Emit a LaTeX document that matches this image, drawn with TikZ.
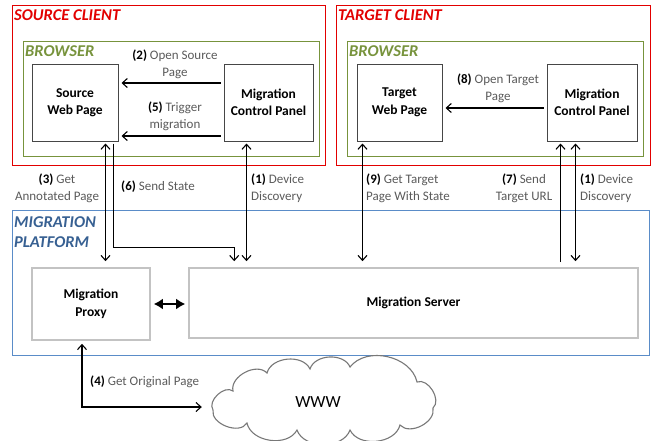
\documentclass[tikz,border=0pt]{standalone}
\usepackage{fontspec}
\setmainfont{Carlito}
\usetikzlibrary{arrows.meta,positioning}
\definecolor{clientred}{RGB}{226,0,0}
\definecolor{browsergreen}{RGB}{119,147,60}
\definecolor{platformblue}{RGB}{90,140,200}
\definecolor{platformtext}{RGB}{55,96,146}
\definecolor{servicegray}{RGB}{195,195,195}
\definecolor{pagedark}{RGB}{70,70,70}
\definecolor{msggray}{RGB}{90,90,90}
\definecolor{cloudgray}{RGB}{120,120,120}
\newcommand{\stepno}[1]{\textcolor{black}{\textbf{#1}}}
\tikzset{
  area/.style={
    draw,
    line width=1.3pt,
    inner sep=0pt,
    anchor=north west
  },
  title/.style={
    font=\fontsize{16.5}{20}\selectfont\bfseries\itshape,
    anchor=north west,
    align=left,
    inner sep=2pt,
    yshift=-2pt
  },
  page/.style={
    draw=pagedark,
    line width=1pt,
    align=center,
    minimum height=77pt,
    font=\fontsize{13.5}{17.5}\selectfont\bfseries
  },
  service/.style={
    draw=servicegray,
    line width=1.6pt,
    align=center,
    font=\fontsize{13.5}{17.5}\selectfont\bfseries
  },
  msg/.style={
    text=msggray,
    align=center,
    inner sep=1pt,
    font=\fontsize{13}{17}\selectfont
  },
  puff/.style={bend left=#1},
  line/.style={-{Straight Barb[length=5pt,width=9pt]}, line width=1.1pt},
  dline/.style={{Straight Barb[length=5pt,width=9pt]}-{Straight Barb[length=5pt,width=9pt]}, line width=1.1pt}
}
\begin{document}
\begin{tikzpicture}[x=1pt,y=-1pt]
  \useasboundingbox (0,0) rectangle (652,440);
  \node[area, draw=clientred, minimum width=313pt, minimum height=160pt] (srcclient) at (12,5) {};
  \node[area, draw=clientred, minimum width=314pt, minimum height=160pt] (tgtclient) at (336,5) {};
  \node[area, draw=browsergreen, minimum width=296pt, minimum height=115pt] (srcbrowser) at (23,41) {};
  \node[area, draw=browsergreen, minimum width=296pt, minimum height=115pt] (tgtbrowser) at (347,41) {};
  \node[area, draw=platformblue, minimum width=637pt, minimum height=145pt] (platform) at (12,210) {};
  \node[title, text=clientred] at (srcclient.north west) {SOURCE CLIENT};
  \node[title, text=clientred] at (tgtclient.north west) {TARGET CLIENT};
  \node[title, text=browsergreen] at (srcbrowser.north west) {BROWSER};
  \node[title, text=browsergreen] at (tgtbrowser.north west) {BROWSER};
  \node[title, text=platformtext, yshift=-2pt] at (platform.north west) {MIGRATION\\PLATFORM};

  \node[page, minimum width=86pt] (swp) at (75,102.5) {Source\\Web Page};
  \node[page, minimum width=89pt] (mcps) at (268.5,102.5) {Migration\\Control Panel};
  \node[page, minimum width=85pt] (twp) at (399.5,102.5) {Target\\Web Page};
  \node[page, minimum width=90pt] (mcpt) at (592,102.5) {Migration\\Control Panel};
  \node[service, minimum width=118pt, minimum height=72pt] (proxy) at (91,304) {Migration\\Proxy};
  \node[service, minimum width=449pt, minimum height=70pt] (server) at (413.5,303) {Migration Server};

  % cloud outline
  \draw[cloudgray, line width=1.1pt]
    (213,410) to[puff=80] (233,391) to[puff=75] (267,373) to[puff=70] (310,369)
    to[puff=70] (350,367) to[puff=65] (417,382) to[puff=80] (433,408)
    to[puff=75] (400,425) to[puff=70] (350,430) to[puff=70] (297,430)
    to[puff=70] (247,423) to[puff=80] cycle;
  \node[minimum width=220pt, inner sep=0pt, font=\fontsize{17}{17}\selectfont] (www) at (318,402) {WWW};

  \draw[line, shorten <=3pt, shorten >=3pt] ([yshift=19.5pt]mcps.west) -- ([yshift=19.5pt]swp.east);
  \draw[line, shorten <=3pt, shorten >=3pt] ([yshift=-33.5pt]mcps.west) -- ([yshift=-33.5pt]swp.east);
  \draw[line, shorten <=3pt, shorten >=3pt] ([yshift=-5.5pt]mcpt.west) -- ([yshift=-5.5pt]twp.east);
  \node[msg] (open) at (175,64) {\stepno{(2)} Open Source\\Page};
  \node[msg] (trigger) at (175,116) {\stepno{(5)} Trigger\\migration};
  \node[msg] (opentgt) at (498,88) {\stepno{(8)} Open Target\\Page};

  \draw[dline, shorten <=2pt, shorten >=6pt] ([xshift=74pt]swp.south west) -- ([xshift=74pt]swp.south west |- proxy.north);
  \draw[line, shorten <=2pt, shorten >=6pt] ([xshift=82pt]swp.south west) -- ++(0,106) -| ([xshift=46pt]server.north west);
  \draw[dline, shorten <=2pt, shorten >=6pt] ([xshift=23pt]mcps.south west) -- ([xshift=23pt]mcps.south west |- server.north);
  \draw[dline, shorten <=2pt, shorten >=6pt] ([xshift=6pt]twp.south west) -- ([xshift=6pt]twp.south west |- server.north);
  \draw[line, shorten <=5pt, shorten >=2pt] ([xshift=14pt]mcpt.south west |- server.north) -- ([xshift=14pt]mcpt.south west);
  \draw[dline, shorten <=2pt, shorten >=6pt] ([xshift=29pt]mcpt.south west) -- ([xshift=29pt]mcpt.south west |- server.north);
  \draw[{Latex[length=9pt,width=11pt]}-{Latex[length=9pt,width=11pt]}, line width=2.6pt, shorten <=3pt, shorten >=3pt] (proxy.east) -- (proxy.east -| server.west);
  \draw[dline, shorten <=3pt, shorten >=6pt] ([xshift=-9pt]proxy.south) |- ([yshift=-5pt]www.west);

  \node[msg] (annotated) at (57,188) {\stepno{(3)} Get\\Annotated Page};
  \node[msg, anchor=west] (sendstate) at (120,187) {\stepno{(6)} Send State};
  \node[msg, anchor=west, align=left] (discs) at (250,188) {\stepno{(1)} Device\\Discovery};
  \node[msg, anchor=west, align=left] (gettgt) at (365,188) {\stepno{(9)} Get Target\\Page With State};
  \node[msg] (sendurl) at (524,188) {\stepno{(7)} Send\\Target URL};
  \node[msg, anchor=west, align=left] (disct) at (579,188) {\stepno{(1)} Device\\Discovery};
  \node[msg, anchor=west] (original) at (89,382) {\stepno{(4)} Get Original Page};
\end{tikzpicture}
\end{document}
